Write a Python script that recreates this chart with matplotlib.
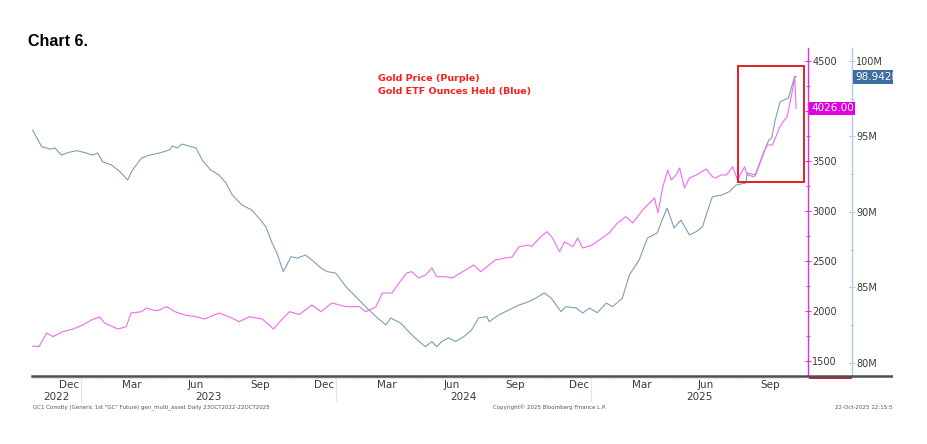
import matplotlib
matplotlib.use("Agg")
from matplotlib import pyplot as plt
from matplotlib.patches import Rectangle
from matplotlib.lines import Line2D
import matplotlib.dates as mdates
import matplotlib.transforms as mtrans
import pandas as pd

# Gold ETF ounces held (millions of oz)
etf_dates = [
    "2022-10-24", "2022-11-06", "2022-11-18", "2022-11-25", "2022-12-04", "2022-12-12",
    "2022-12-19", "2022-12-26", "2023-01-07", "2023-01-18", "2023-01-25", "2023-02-01",
    "2023-02-14", "2023-02-26", "2023-03-09", "2023-03-16", "2023-03-29", "2023-04-10",
    "2023-04-24", "2023-05-08", "2023-05-12", "2023-05-19", "2023-05-26", "2023-06-05",
    "2023-06-15", "2023-06-24", "2023-07-06", "2023-07-18", "2023-07-28", "2023-08-06",
    "2023-08-20", "2023-09-03", "2023-09-13", "2023-09-23", "2023-10-02", "2023-10-09",
    "2023-10-18", "2023-10-22", "2023-10-29", "2023-11-07", "2023-11-19", "2023-11-28",
    "2023-12-11", "2023-12-20", "2024-01-01", "2024-01-16", "2024-01-30", "2024-02-13",
    "2024-02-28", "2024-03-13", "2024-03-20", "2024-04-03", "2024-04-15", "2024-04-27",
    "2024-05-09", "2024-05-18", "2024-05-25", "2024-06-01", "2024-06-11", "2024-06-21",
    "2024-07-03", "2024-07-14", "2024-07-24", "2024-08-05", "2024-08-08", "2024-08-22",
    "2024-09-05", "2024-09-20", "2024-10-04", "2024-10-14", "2024-10-26", "2024-11-05",
    "2024-11-19", "2024-11-26", "2024-12-11", "2024-12-20", "2024-12-30", "2025-01-10",
    "2025-01-23", "2025-02-01", "2025-02-15", "2025-02-25", "2025-03-11", "2025-03-23",
    "2025-04-06", "2025-04-13", "2025-04-20", "2025-04-27", "2025-04-30", "2025-05-10",
    "2025-05-22", "2025-06-01", "2025-06-10", "2025-06-15", "2025-06-24", "2025-07-08",
    "2025-07-18", "2025-07-28", "2025-08-11", "2025-08-13", "2025-08-25", "2025-09-03",
    "2025-09-13", "2025-09-17", "2025-09-22", "2025-09-29", "2025-10-11", "2025-10-20",
    "2025-10-22",
]
etf_oz = [
    95.43, 94.32, 94.17, 94.24, 93.77, 93.91,
    93.99, 94.06, 93.93, 93.77, 93.91, 93.33,
    93.11, 92.67, 92.12, 92.78, 93.58, 93.77,
    93.91, 94.11, 94.37, 94.24, 94.50, 94.37,
    94.24, 93.44, 92.78, 92.45, 91.92, 91.13,
    90.46, 90.13, 89.60, 89.03, 87.95, 87.28,
    86.05, 86.38, 87.04, 86.95, 87.15, 86.82,
    86.29, 86.05, 85.96, 85.05, 84.39, 83.73,
    83.07, 82.52, 82.98, 82.65, 82.07, 81.52,
    81.08, 81.42, 81.08, 81.42, 81.66, 81.42,
    81.75, 82.19, 82.98, 83.07, 82.74, 83.18,
    83.51, 83.84, 84.06, 84.30, 84.64, 84.30,
    83.40, 83.73, 83.64, 83.31, 83.64, 83.33,
    83.97, 83.73, 84.30, 85.83, 86.82, 88.28,
    88.61, 89.47, 90.26, 89.36, 88.94, 89.47,
    88.48, 88.70, 89.03, 89.80, 91.01, 91.13,
    91.34, 91.79, 91.92, 92.58, 92.45, 93.66,
    94.77, 94.90, 96.09, 97.30, 97.55, 99.00,
    98.942,
]

# Gold price (GC1 Comdty)
price_dates = [
    "2022-10-24", "2022-11-02", "2022-11-13", "2022-11-22", "2022-12-06", "2022-12-21",
    "2023-01-04", "2023-01-16", "2023-01-28", "2023-02-04", "2023-02-23", "2023-03-07",
    "2023-03-14", "2023-03-29", "2023-04-05", "2023-04-14", "2023-04-21", "2023-05-04",
    "2023-05-16", "2023-05-30", "2023-06-15", "2023-06-27", "2023-07-18", "2023-08-01",
    "2023-08-16", "2023-08-30", "2023-09-18", "2023-10-04", "2023-10-13", "2023-10-27",
    "2023-11-10", "2023-11-28", "2023-12-11", "2023-12-27", "2024-01-16", "2024-02-04",
    "2024-02-13", "2024-02-28", "2024-03-08", "2024-03-22", "2024-04-01", "2024-04-12",
    "2024-04-19", "2024-04-29", "2024-05-09", "2024-05-18", "2024-05-25", "2024-06-07",
    "2024-06-16", "2024-06-28", "2024-07-10", "2024-07-17", "2024-07-27", "2024-08-08",
    "2024-08-17", "2024-09-01", "2024-09-10", "2024-09-20", "2024-10-04", "2024-10-08",
    "2024-10-21", "2024-10-30", "2024-11-07", "2024-11-17", "2024-11-24", "2024-12-06",
    "2024-12-13", "2024-12-20", "2025-01-03", "2025-01-13", "2025-01-27", "2025-02-08",
    "2025-02-20", "2025-03-02", "2025-03-16", "2025-04-02", "2025-04-07", "2025-04-14",
    "2025-04-21", "2025-04-26", "2025-05-03", "2025-05-08", "2025-05-15", "2025-05-22",
    "2025-06-01", "2025-06-15", "2025-06-24", "2025-06-29", "2025-07-06", "2025-07-14",
    "2025-07-23", "2025-07-30", "2025-08-09", "2025-08-13", "2025-08-23", "2025-09-02",
    "2025-09-07", "2025-09-11", "2025-09-18", "2025-09-23", "2025-09-28", "2025-10-02",
    "2025-10-09", "2025-10-12", "2025-10-16", "2025-10-20", "2025-10-22",
]
gold_price = [
    1650, 1643, 1780, 1743, 1793, 1820,
    1860, 1910, 1940, 1880, 1820, 1843,
    1980, 1993, 2030, 2010, 2003, 2043,
    1993, 1960, 1943, 1920, 1980, 1943,
    1893, 1943, 1920, 1820, 1893, 1993,
    1965, 2060, 1993, 2080, 2043, 2043,
    1993, 2043, 2180, 2180, 2280, 2380,
    2393, 2330, 2360, 2430, 2343, 2343,
    2330, 2380, 2430, 2460, 2393, 2460,
    2510, 2530, 2540, 2643, 2660, 2643,
    2743, 2793, 2730, 2593, 2693, 2643,
    2730, 2630, 2660, 2710, 2780, 2880,
    2943, 2880, 3010, 3130, 2980, 3243,
    3410, 3310, 3360, 3430, 3230, 3330,
    3360, 3420, 3343, 3330, 3360, 3360,
    3443, 3310, 3443, 3360, 3343, 3510,
    3610, 3660, 3660, 3743, 3830, 3880,
    3943, 4043, 4180, 4340, 4026,
]

price_ticks = [1500, 2000, 2500, 3000, 3500, 4000, 4500]
etf_ticks = [80, 85, 90, 95, 100]
month_labels = ["Dec", "Mar", "Jun", "Sep"]
years = [2022, 2023, 2024, 2025]

title = "Chart 6."
note_lines = ["Gold Price (Purple)", "Gold ETF Ounces Held (Blue)"]
footer_left = "GC1 Comdty (Generic 1st \"GC\" Future) gen_multi_asset Daily 23OCT2022-22OCT2025"
footer_mid = "Copyright\u00a9 2025 Bloomberg Finance L.P."
footer_right = "22-Oct-2025 12:15:5"

blue = "#7f9db8"
pink = "#f06af0"
mag_spine = "#e030e0"
blue_spine = "#b4cbe2"
txt = "#3a3a3a"

plt.rcParams["font.family"] = ["DejaVu Sans"]

fig = plt.figure(figsize=(9.28, 4.44), dpi=100)
W, H = 928.0, 444.0
x0, x1, ytop, ybot = 32, 808, 48, 375
ax = fig.add_axes([x0 / W, (H - ybot) / H, (x1 - x0) / W, (ybot - ytop) / H])
ax2 = ax.twinx()

etf_x = pd.to_datetime(etf_dates)
px_x = pd.to_datetime(price_dates)

ax.plot(etf_x, etf_oz, color=blue, lw=0.8)
ax2.plot(px_x, gold_price, color=pink, lw=0.8)

start = pd.Timestamp("2022-10-23")
end = pd.Timestamp("2025-11-08")
ax.set_xlim(start, end)
ax.set_ylim(79.205, 100.861)
ax2.set_ylim(1360, 4630)

# spines
for s in ["left", "top"]:
    ax.spines[s].set_visible(False)
    ax2.spines[s].set_visible(False)
ax2.spines["left"].set_visible(False)
ax2.spines["bottom"].set_visible(False)
ax.spines["bottom"].set_visible(False)
ax.spines["right"].set_position(("axes", (852 - x0) / (x1 - x0)))
ax.spines["right"].set_color(blue_spine)
ax.spines["right"].set_linewidth(1.0)
ax2.spines["right"].set_color(mag_spine)
ax2.spines["right"].set_linewidth(1.0)

# ETF axis
ax.yaxis.tick_right()
ax.set_yticks(etf_ticks)
ax.set_yticklabels(["%dM" % v for v in etf_ticks])
ax.set_yticks([v + 2.5 for v in etf_ticks[:-1]], minor=True)
ax.tick_params(axis="y", which="both", direction="inout", colors=blue_spine,
               labelcolor=txt, labelsize=7, pad=1)
ax.tick_params(axis="y", which="major", length=4, width=0.8)
ax.tick_params(axis="y", which="minor", length=3, width=0.6)

# price axis (the 4000 label sits under the last-price tag)
ax2.set_yticks(price_ticks)
ax2.set_yticklabels(["" if v == 4000 else str(v) for v in price_ticks])
ax2.set_yticks([v + 250 for v in price_ticks[:-1]], minor=True)
ax2.tick_params(axis="y", which="both", direction="inout", colors=mag_spine,
                labelcolor=txt, labelsize=7, pad=1)
ax2.tick_params(axis="y", which="major", length=4, width=0.8)
ax2.tick_params(axis="y", which="minor", length=3, width=0.6)

# x axis: month boundary ticks, labels at mid month
ax.xaxis.set_major_locator(mdates.MonthLocator())
ax.xaxis.set_major_formatter(plt.NullFormatter())
ax.tick_params(axis="x", which="major", direction="out", length=3, width=0.5,
               color="#d8d8e8")
ax.xaxis.set_minor_locator(mdates.MonthLocator(bymonth=[12, 3, 6, 9], bymonthday=15))
ax.xaxis.set_minor_formatter(mdates.DateFormatter("%b"))
ax.tick_params(axis="x", which="minor", length=0, labelsize=7.5, labelcolor=txt, pad=3.5)

trans = mtrans.blended_transform_factory(ax.transData, ax.transAxes)
xl0, xl1 = mdates.date2num(start), mdates.date2num(end)
for yr in years:
    a = max(mdates.date2num(pd.Timestamp("%d-01-01" % yr)), xl0)
    b = min(mdates.date2num(pd.Timestamp("%d-01-01" % (yr + 1))), xl1)
    ax.text((a + b) / 2, -0.066, str(yr), transform=trans, ha="center", va="center",
            fontsize=7.5, color=txt)
    if yr > 2022:
        ax.plot([a, a], [-0.008, -0.078], transform=trans, color="#dde6f0", lw=0.8,
                clip_on=False)

# bottom rule of the chart
fig.add_artist(Line2D([x0 / W, 893 / W], [(H - 375.5) / H] * 2, color="#505050", lw=1.8))
fig.add_artist(Line2D([x0 / W, 800 / W], [(H - 377.5) / H] * 2, color="#f2d0e0", lw=0.6))
fig.add_artist(Rectangle((809 / W, (H - 379) / H), 43 / W, 2.5 / H, color="#d0203a", lw=0))

# highlighted recent move
rx0 = mdates.date2num(pd.Timestamp("2025-07-30"))
rx1 = mdates.date2num(pd.Timestamp("2025-11-02"))
ax2.add_patch(Rectangle((rx0, 3290), rx1 - rx0, 4450 - 3290, fill=False,
                        edgecolor="#e02020", lw=1.4, zorder=5))

# last value tags
ax2.text((811 - x0) / (x1 - x0), gold_price[-1], "%.2f" % gold_price[-1],
         transform=mtrans.blended_transform_factory(ax2.transAxes, ax2.transData),
         ha="left", va="center", fontsize=7.5, color="white", clip_on=False,
         bbox=dict(boxstyle="square,pad=0.15", fc="#e000e0", ec="none"))
ax.text((855 - x0) / (x1 - x0), etf_oz[-1], "%.3fM" % etf_oz[-1],
        transform=mtrans.blended_transform_factory(ax.transAxes, ax.transData),
        ha="left", va="center", fontsize=7.5, color="white", clip_on=False,
        bbox=dict(boxstyle="square,pad=0.15", fc="#3c6e9e", ec="none"))

# texts
fig.text(28 / W, (H - 41) / H, title, fontsize=11.5, fontweight="bold",
         family=["Liberation Sans", "DejaVu Sans"], va="center", ha="left")
fig.text(378 / W, (H - 78.3) / H, note_lines[0], fontsize=6.8, fontweight="bold",
         color="#ff1c1c", va="center", ha="left")
fig.text(378 / W, (H - 91.7) / H, note_lines[1], fontsize=6.8, fontweight="bold",
         color="#ff1c1c", va="center", ha="left")
fig.text(33 / W, (H - 407) / H, footer_left, fontsize=4, color="#555555", va="center")
fig.text(493 / W, (H - 407) / H, footer_mid, fontsize=4, color="#555555", va="center")
fig.text(835 / W, (H - 407) / H, footer_right, fontsize=4, color="#555555", va="center")

# the original screenshot is cut off on the right
fig.add_artist(Rectangle((893 / W, 0), 1, 1, color="white", lw=0, zorder=20))

fig.savefig("out.png", dpi=100)
